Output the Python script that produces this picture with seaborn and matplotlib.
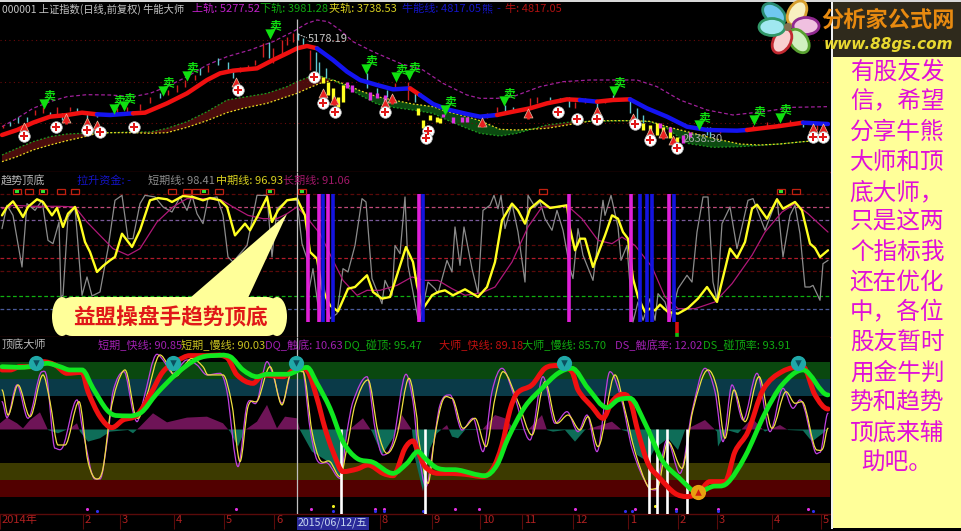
import numpy as np
import matplotlib
matplotlib.use("Agg")
import matplotlib.pyplot as plt
from matplotlib.patches import Ellipse, FancyBboxPatch, PathPatch, Polygon, Rectangle
from matplotlib.path import Path
from matplotlib.transforms import ScaledTranslation
import seaborn as sns

# ===================== PRICE PANEL DATA =====================
bull_x = [2,17,33,50,67,82,97,110,133,145,167,187,207,220,233,257,273,287,297,307,317,333,347,360,377,393,410,420,433,447,467,480,497,513,530,547,567,580,597,613,630,647,667,687,707,737,747,780,803,828]
bull_v = [2730,2850,3026,3170,3210,3266,3226,3210,3250,3266,3490,3730,4050,4210,4274,4330,4530,4690,4810,4866,4810,4530,4250,4050,3930,3826,3850,3690,3474,3346,3234,3170,3210,3290,3370,3490,3586,3570,3530,3570,3586,3370,3170,2930,2850,2834,2850,2946,3026,2994]
bull_up = [1,1,1,1,1,1,0,0,1,1,1,1,1,1,1,1,1,1,1,1,0,0,0,0,0,0,1,0,0,0,0,0,1,1,1,1,1,0,1,1,0,0,0,0,0,0,1,1,0,1]

upper_x = [2,17,33,50,67,87,110,133,150,167,187,207,227,250,273,293,307,317,328,340,353,373,400,423,443,467,480,497,513,540,563,590,613,637,657,680,707,733,763,793,827]
upper_v = [2930,3130,3370,3530,3650,3698,3690,3650,3730,3890,4130,4410,4610,4770,4970,5210,5410,5490,5450,5250,4970,4730,4450,4290,3970,3690,3610,3610,3650,3890,4010,4050,4050,4050,3890,3570,3330,3210,3290,3394,3410]

band_x = [2,17,33,50,67,82,97,110,133,150,167,187,207,227,243,267,287,297,308,320,333,347,360,377,393,413,433,447,467,480,500,517,547,573,593,630,650,667,687,713,740,760,780,803,827]
lower_v = [2250,2410,2570,2690,2754,2770,2786,2786,2802,2802,2890,3050,3290,3570,3634,3730,3890,4010,4114,4146,4050,3874,3690,3474,3394,3330,3250,3090,2890,2770,2706,2770,2970,3050,3058,3074,3050,2890,2530,2434,2450,2482,2514,2570,2610]
trap_v = [2090,2210,2370,2490,2594,2674,2770,2786,2786,2770,2786,2914,3074,3266,3370,3490,3650,3730,3850,3970,4050,3930,3794,3650,3570,3474,3410,3290,3170,3074,2866,2850,2890,2994,3074,3074,3058,2930,2810,2650,2514,2490,2514,2570,2610]

candle_x = [3,10,18,27,35,43,50,57,62,70,77,87,97,117,127,140,150,160,168,177,185,195,200,208,218,228,233,240,248,255,263,269,273,282,287,293,298,303,310,316,319,326,367,377,387,395,408,415,487,497,505,513,530,537,550,560,569,575,585,597,605,613,630,637,643,707,710,720,753,767,790,803,817,823]
candle_hi = [2970,3050,3170,3170,3330,3394,3290,3410,3250,3410,3370,3250,3250,3370,3394,3474,3650,3746,3810,3930,4050,4170,4330,4410,4570,4490,4290,4370,4410,4530,4930,4970,4810,5010,5090,5170,5170,5050,4770,4730,4490,4330,4210,3850,3810,3970,4010,3730,3250,3410,3450,3410,3610,3650,3650,3610,3650,3530,3610,3570,3570,3690,3570,3370,3210,2930,2930,2890,2970,3050,3090,3050,2994,2970]
candle_lo = [2890,2946,3010,3050,3210,3250,3186,3210,3090,3314,3290,3130,3170,3234,3266,3330,3490,3610,3690,3770,3874,4050,4170,4250,4410,4250,4090,4250,4290,4410,4610,4570,4450,4650,4890,4970,5010,4850,4290,4250,4170,4090,3850,3690,3650,3810,3570,3530,3130,3290,3290,3330,3370,3490,3570,3530,3410,3370,3490,3370,3490,3570,3250,3050,3010,2730,2690,2770,2850,2930,2970,2930,2850,2810]
candle_red = [1,0,0,0,1,1,0,1,0,1,0,0,0,1,1,1,1,0,1,1,1,1,0,1,0,0,0,1,1,1,1,0,1,1,1,1,0,0,1,0,0,0,0,0,0,1,1,0,1,1,0,0,1,1,0,0,0,1,1,0,1,0,0,0,0,0,0,1,1,1,1,0,1,1]

weak_x = [323,328,333,338,343,418,423,430,437,440,643,650,657,663,670,677]
weak_hi = [4130,4010,3850,3650,3930,3370,3090,3210,3170,3130,3010,2970,3010,2930,2850,2690]
weak_lo = [3970,3690,3570,3410,3530,3210,2890,3090,3050,3026,2850,2770,2730,2730,2650,2570]
rebound_x = [347,352,370,377,385,443,453,462,467,660,670,683,690]
rebound_hi = [4010,3930,3770,3730,3690,3234,3170,3170,3154,3010,2930,2730,2810]
rebound_lo = [3850,3770,3570,3610,3530,3154,3010,3050,3050,2890,2810,2530,2690]

buy_x = [24,56,87,100,134,238,314,323,335,385,428,426,558,577,597,635,650,677,813,823]
buy_v = [2706,2922,2850,2794,2922,3802,4122,3498,3290,3282,2826,2650,3274,3122,3106,3002,2610,2410,2690,2690]
rise_x = [24,66,87,97,236,323,334,385,392,482,528,597,633,650,663,673,813,823]
rise_v = [2930,3130,3050,2970,4010,3730,3570,3506,3610,3050,3250,3314,3130,2810,2770,2610,2890,2890]
sell_x = [47,117,127,166,190,273,369,399,412,448,507,617,702,757,783]
sell_v = [3586,3474,3530,3906,4266,5274,4434,4226,4274,3450,3650,3906,3074,3210,3250]
price_levels = [5010,4010,3010]

# ===================== TREND PANEL DATA =====================
mid_x = [2,7,13,18,23,28,37,43,52,57,63,68,75,80,85,90,97,103,110,115,122,132,140,150,158,167,172,183,193,203,210,220,227,235,245,250,258,267,272,278,287,297,305,310,317,322,330,338,348,355,367,373,382,390,398,406,413,417,423,432,438,445,453,465,478,487,495,502,512,518,525,530,540,550,567,570,575,580,585,593,605,612,618,623,628,633,638,645,650,655,660,668,678,688,698,707,717,730,737,745,752,757,767,777,783,795,802,810,815,820,828]
mid_v = [83.6,90.2,94.6,88.8,82.3,90.2,96.2,94.1,83.6,89.4,74.5,84.9,90.2,78.4,62.7,54.9,39.2,43.9,48.3,51,69.2,58.8,71.9,95.4,97.2,96.2,94.1,98.8,98,95.4,97.2,95.4,90.2,67.9,77.1,71.9,83.6,98,78.4,87.5,95.4,96.7,83.6,54.9,49.6,26.1,13,8.3,26.1,27.4,36.6,23.5,18.3,19.6,39.2,58.8,47,28.7,10.4,20.9,23.5,24.8,20.9,25.6,19.6,27.4,47,79.7,92.8,87.5,77.1,88.8,95.4,89.4,91.5,73.2,56.2,65.3,65.3,43.1,67.9,83.6,81,70.5,65.3,34,19.6,7.8,10.4,9.1,13.6,7.8,6.5,10.9,18.3,27.4,15.7,57.5,50.2,62.7,88.8,92,81,96.2,88.8,94.1,87.5,61.4,58,50.9,56.2]
short_x = [2,7,13,22,27,35,42,48,53,59,61,63,68,75,82,87,92,100,108,115,122,128,133,140,145,155,163,172,180,187,192,197,203,208,217,223,228,233,247,257,267,272,277,287,297,302,307,308,313,320,323,330,337,343,348,355,362,366,372,382,385,392,395,400,405,408,418,420,428,435,438,447,452,455,460,464,472,478,483,490,494,498,501,505,512,518,525,528,535,540,545,552,557,563,570,573,578,583,593,603,605,611,618,621,627,630,633,638,643,650,655,658,665,670,678,687,692,697,703,708,713,717,722,730,737,748,753,765,777,783,790,795,800,805,810,813,820,823,828]
short_v = [73.2,91.5,83.6,43.1,92.8,87.5,95.4,64,61.4,78.4,19.6,20.9,82.3,90.2,20.9,35.3,20.4,23.5,57.5,95.4,99.3,65.3,65.3,92.8,99.3,98,90.2,86.2,98,87.5,99.3,84.9,77.1,96.7,98,83.6,51,47,60,99.3,99.3,51,88.8,95.4,95.4,61.4,49.6,20.9,41.8,1.3,31.3,2.6,6.5,41.8,39.2,60,96.7,94.1,34,14.3,32.6,20.9,60,53.6,98,44.4,2.6,1.3,31.3,26.1,22.2,48.3,39.2,74.5,44.4,74.5,41.8,22.2,87.5,91.5,99.3,88.8,99.3,73.2,92.8,70.5,31.3,99.3,90.2,94.1,81,71.9,87.5,71.9,41.8,34,73.2,52.3,32.6,95.4,83.6,99.3,74.5,48.3,60,28.7,0,15.7,1.3,18.3,1.3,22.2,15.7,1.3,26.1,36.6,31.3,70.5,98,98,31.3,17,77.1,90.2,57.5,95.4,96.7,71.9,96.7,51,83.6,91.5,69.2,27.4,27.4,28.7,17,45.7,48.3]
long_x = [2,13,33,60,75,87,100,113,128,140,157,173,187,207,222,233,248,263,277,287,297,305,320,333,343,357,367,380,397,412,425,438,452,465,482,495,512,528,542,555,567,582,598,612,622,635,652,665,678,695,715,732,752,765,782,795,808,828]
long_v = [88.8,91.5,90.7,90.7,90.2,78.4,67.9,57.5,52.3,57.5,78.4,90.2,96.7,96.7,95.4,90.2,83.6,81,81,84.9,90.2,83.6,69.2,48.3,32.6,20.9,24.8,24.8,28.7,35.3,32.6,32.6,26.1,20.9,23,27.4,47,74.5,90.2,90.2,91.5,81,64,61.4,66.6,60,43.1,19.6,10.4,10.4,15.7,30,52.3,70.5,86.2,92.8,84.9,70.5]

magenta_bar_x = [308,319,328,419,569,631,669]
blue_bar_x = [323,333,423,640,647,652,674]
box_x = [17,29,43,61,75,172,187,196,204,219,270,302,543,781,796]
box_filled = [1,0,1,0,0,0,0,0,1,0,1,1,0,1,0]
trend_levels = [100,90,80,60,50,40,20,10]
trend_colors = ["#5a0a0a","#c04a7a","#7a5a9a","#5a0a0a","#b01a2a","#5a0a0a","#10b010","#4a5a9a"]

# ===================== TOP-BOTTOM PANEL DATA =====================
bigred_x = [2,10,20,30,43,55,67,82,88,100,112,123,137,150,163,177,190,207,227,237,253,263,283,297,308,317,325,333,343,357,368,383,393,405,413,418,425,438,448,465,483,493,502,510,517,532,545,558,572,578,592,603,612,622,630,638,648,660,675,687,698,710,725,735,748,763,782,803,815,828]
bigred_v = [94.1,94.1,96.5,96.5,100.2,97.8,91.6,92.3,78,59.5,51.4,57,60.7,75.6,92.8,100.7,104.7,104.7,103.2,90.4,84.2,90.4,89.1,95.3,92.8,73.1,50.9,33.6,18.8,20.7,23.7,17.5,15.8,36.1,41.5,33.6,22.5,17.5,17.5,16.8,15.1,21.2,38.5,64.4,76.8,83,95.3,97.3,92.8,79.3,66.9,58.3,70.6,76,71.9,48.4,24.9,13.8,2.7,0.3,2.7,11.4,11.4,33.6,48.4,79.3,92.8,96.5,75.6,65.2]
biggreen_x = [2,20,37,47,60,70,82,93,107,117,140,157,177,197,213,230,243,257,267,287,307,317,330,343,357,373,393,407,418,425,438,458,485,497,508,525,542,558,572,588,607,618,630,645,662,678,698,712,727,745,765,782,803,828]
biggreen_v = [96.5,96,97.3,99,96.5,94.1,94.1,80.5,64.4,60.3,62,76.8,91.6,102.2,104.7,104,94.1,89.1,90.9,90.9,96,84.2,65.7,41,28.6,25.7,17.5,24.9,33.6,28.6,21.2,20,15.8,23.7,43.5,66.9,80.5,91.6,95.3,80.5,66.2,71.9,73.1,54.6,27.4,15,3.5,7.7,10.1,29.9,62,83,94.1,75.6]
fast_x = [2,7,17,28,42,47,55,63,77,83,95,100,108,113,124,133,137,143,157,163,173,187,197,207,220,227,238,247,257,267,273,282,293,302,310,317,328,340,347,353,367,375,383,393,406,413,418,426,433,440,450,462,473,483,492,502,515,530,543,555,567,578,587,597,610,622,632,647,655,667,680,692,705,715,723,732,743,757,770,783,793,800,815,820,828]
fast_v = [70.6,58.8,83,58.3,92.8,87.9,36.1,37.3,71.9,48.4,13.3,13.3,45.9,78,92.8,63.2,55.8,70.6,105.7,101.5,91.6,101.5,97.8,90.4,91.6,78,22.5,68.2,70.6,100.2,90.4,69.4,95.3,95.3,50.9,27.4,24.9,13.8,48.4,70.6,89.1,50.9,31.1,41,90.9,70.6,36.1,7.7,36.1,68.2,75.6,49.6,58.3,33.6,78,95.3,73.1,42.2,89.1,54.6,63.2,48.4,60.7,33.6,92.8,70.6,36.1,8.9,5.2,42.2,17.5,63.2,95.3,78,41,83,57,91.6,48.4,80.5,65.7,71.9,33.6,33.1,62]
slow_x = [2,8,18,30,43,50,58,65,79,88,97,103,110,117,125,135,138,147,160,168,175,192,203,208,223,232,240,248,258,270,282,290,303,312,320,330,340,348,355,368,378,387,397,409,417,418,428,435,443,452,463,475,486,495,503,518,532,545,557,568,580,588,598,615,625,635,648,657,668,682,693,708,717,725,734,745,759,772,786,795,802,817,823,828]
slow_v = [79.3,60.7,83,59.5,90.4,70.6,38.5,38.5,70.6,26.2,13.3,21.2,60.7,83,94.1,60.7,58.3,75.6,105.2,97.8,89.1,102.7,96.5,90.4,90.4,68.2,26.2,66.9,71.9,96.5,68.2,90.4,92.8,48.4,27.4,26.2,15.1,41,68.2,86.7,48.4,32.3,45.9,87.9,58.3,45.9,10.1,45.9,71.9,73.1,50.9,58.3,37.3,73.1,92.8,70.6,45.9,85.4,54.6,60.7,49.6,59.5,37.3,90.4,64.4,33.6,7.7,6.4,41,21.2,64.4,94.1,80.5,43.5,79.3,55.8,89.1,50.9,78,69.4,70.6,34.8,36.1,50.9]
hist_x = [0,7,17,23,30,40,48,58,70,77,80,88,100,110,128,133,140,153,167,187,207,223,230,238,245,257,267,277,285,297,300,312,328,340,347,353,363,372,382,393,402,412,415,423,430,437,447,452,458,465,482,495,505,515,528,542,547,553,565,575,585,612,622,628,637,648,655,668,678,685,705,717,718,727,738,752,765,780,788,803,812,827]
hist_v = [54.6,58.8,54.6,50.9,57,62.7,49.6,47.2,50.9,54.6,48.4,41,43.5,48.4,49.6,47.2,52.1,62,55.3,58.8,59.5,54.6,48.4,37.3,49.6,55.8,68.2,50.9,59.5,58.3,49.6,33.6,26.2,15.1,48.4,52.1,58.3,48.4,31.1,43.5,60.7,49.6,28.6,4,36.1,47.2,53.3,44.7,43.5,49.6,49.6,60.7,58.3,49.6,49.6,60.7,49.6,48.4,49.6,41,49.6,55.8,49.6,48.4,31.1,26.2,36.1,43.5,34.8,49.6,57,48.4,37.3,49.6,47.2,58.3,48.4,53.3,49.6,49.1,41,49.6]
top_hit_x = [36,173,296,564,798]
top_hit_v = [99,99,99,99.5,99.5]
bottom_hit_x = [698]
bottom_hit_v = [3.5]
signal_x = [341,425,649,657,667,687]
zone_edges = [100,87.5,75,25,12.5,0]
dot_pink_x = [87,236,311,375,384,455,479,575,635,676,718,808]
dot_blue_x = [97,333,375,384,423,625,632,676,718,813]
dot_yellow_x = [333,655]

# ===================== AXIS TEXT =====================
tick_pos = [0,83,120,174,224,274,380,432,480,522,573,628,678,717,772,821]
tick_txt = ["2014年","2","3","4","5","6","8","9","10","11","12","1","2","3","4","5"]
note_lines = ["有股友发","信，希望","分享牛熊","大师和顶","底大师，","只是这两","个指标我","还在优化","中，各位","股友暂时","用金牛判","势和趋势","顶底来辅","助吧。"]

# ===================== STYLE =====================
sns.set_theme(style="dark", rc={"axes.facecolor": "black", "figure.facecolor": "black", "axes.grid": False})
plt.rcParams["font.family"] = ["Noto Sans CJK SC", "DejaVu Sans"]

W, H = 962, 531
fig = plt.figure(figsize=(W / 100, H / 100), dpi=100)
RED_EDGE = "#5a0a0a"


def panel(top, bottom, ylim):
    a = fig.add_axes([0, 1 - bottom / H, 830 / W, (bottom - top) / H])
    a.set_xlim(0, 830)
    a.set_ylim(*ylim)
    a.set_xticks([])
    a.set_yticks([])
    for s in a.spines.values():
        s.set_visible(False)
    a.spines["bottom"].set_visible(True)
    a.spines["bottom"].set_color(RED_EDGE)
    a.spines["bottom"].set_linewidth(1)
    return a


def line(a, x, y, color, lw, ls="-"):
    sns.lineplot(x=x, y=y, ax=a, color=color, linewidth=lw, linestyle=ls,
                 estimator=None, sort=False, errorbar=None, legend=False)


def curve(a, x, y, color, lw, zorder=2.5):
    # the terminal draws these as smooth curves: round the joins, peaks stay at the read values
    x, y = np.asarray(x, float), np.asarray(y, float)
    m = np.zeros(len(x))
    m[1:-1] = (y[2:] - y[:-2]) / (x[2:] - x[:-2])
    turn = (y[1:-1] - y[:-2]) * (y[2:] - y[1:-1]) <= 0
    m[1:-1][turn] = 0
    verts, codes = [(x[0], y[0])], [Path.MOVETO]
    for i in range(len(x) - 1):
        h = (x[i + 1] - x[i]) / 3
        verts += [(x[i] + h, y[i] + m[i] * h), (x[i + 1] - h, y[i + 1] - m[i + 1] * h), (x[i + 1], y[i + 1])]
        codes += [Path.CURVE4] * 3
    a.add_patch(PathPatch(Path(verts, codes), fc="none", ec=color, lw=lw, zorder=zorder, capstyle="round"))


def header(y, items, size=8.0):
    for x, txt, col in items:
        ov.text(x, y, txt, color=col, fontsize=size, va="center", ha="left")


ax_top = panel(3, 172, (1842, 5898))
ax_mid = panel(172, 337, (-11.8, 117.6))
ax_bot = panel(337, 514, (-12.6, 118.5))

# ===================== PRICE PANEL =====================
for lv in price_levels:
    ax_top.axhline(lv, color="#6a0a0a", lw=0.8, ls=(0, (1, 3)))

ax_top.fill_between(band_x, lower_v, trap_v, where=np.array(lower_v) >= np.array(trap_v),
                    color="#4a0c0c", lw=0, interpolate=True)
ax_top.fill_between(band_x, lower_v, trap_v, where=np.array(lower_v) <= np.array(trap_v),
                    color="#0b4a10", lw=0, interpolate=True)
line(ax_top, band_x, lower_v, "#1f9a1f", 0.9, (0, (1.5, 1.5)))
line(ax_top, band_x, trap_v, "#e8d820", 0.9, (0, (1.5, 1.5)))
line(ax_top, upper_x, upper_v, "#a0209a", 0.9, (0, (3, 2)))

for i in range(len(candle_x)):
    c = "#d02020" if candle_red[i] else "#60c8d0"
    ax_top.vlines(candle_x[i], candle_lo[i], candle_hi[i], color=c, lw=1.0)
ax_top.vlines(weak_x, weak_lo, weak_hi, color="#ffff20", lw=2.4)
ax_top.vlines(rebound_x, rebound_lo, rebound_hi, color="#e030e0", lw=2.4)

# bull line changes colour run by run
start = 0
for i in range(1, len(bull_x) + 1):
    if i == len(bull_x) or bull_up[i] != bull_up[start]:
        stop = min(i + 1, len(bull_x))
        col = "#f01010" if bull_up[start] else "#1414f0"
        line(ax_top, bull_x[start:stop], bull_v[start:stop], col, 3.2)
        start = i

sns.scatterplot(x=rise_x, y=rise_v, ax=ax_top, marker="^", s=42, color="#e82020",
                edgecolor="#e8c0a0", linewidth=0.5, legend=False, zorder=6)
ax_top.vlines(rise_x, np.array(rise_v) - 130, rise_v, color="#e82020", lw=2, zorder=6)
sns.scatterplot(x=buy_x, y=buy_v, ax=ax_top, marker="o", s=70, color="white",
                edgecolor="#b0b0b0", linewidth=0.5, legend=False, zorder=7)
sns.scatterplot(x=buy_x, y=buy_v, ax=ax_top, marker="P", s=34, color="#e01818",
                linewidth=0, legend=False, zorder=8)
sns.scatterplot(x=np.array(sell_x) - 3, y=np.array(sell_v) - 110, ax=ax_top, marker="v", s=55,
                color="#10e010", linewidth=0, legend=False, zorder=7)
for x, v in zip(sell_x, sell_v):
    ax_top.text(x + 2, v + 60, "卖", color="#10e010", fontsize=8.5, fontweight="bold",
                ha="center", va="center", zorder=8)

ax_top.text(308, 5040, "5178.19", color="#c8c8c8", fontsize=8, va="center", zorder=9)
ax_top.text(683, 2634, "2638.30", color="#a8a8a8", fontsize=8, va="center", zorder=9)
ax_top.plot([298, 307], [5150, 5060], color="#c8c8c8", lw=0.7, ls=(0, (2, 1)))

# ===================== TREND PANEL =====================
for lv, c in zip(trend_levels, trend_colors):
    ax_mid.axhline(lv, color=c, lw=0.9, ls=(0, (3, 2)))
line(ax_mid, short_x, short_v, "#8c8c8c", 0.9)
ax_mid.vlines(magenta_bar_x, 0, 100, color="#e020d8", lw=2.6, zorder=3)
ax_mid.vlines(blue_bar_x, 0, 100, color="#1414e0", lw=2.6, zorder=3)
line(ax_mid, long_x, long_v, "#b01878", 0.9)
line(ax_mid, mid_x, mid_v, "#ffff20", 1.7)
for b, f in zip(box_x, box_filled):
    ax_mid.add_patch(Rectangle((b - 4, 100.2), 8, 3.8, fc="none", ec="#c02010", lw=0.9, zorder=5))
    if f:
        ax_mid.add_patch(Rectangle((b - 2, 101), 4, 2.2, fc="#30e030", ec="none", zorder=6))
ax_mid.vlines(677, -9, 0, color="#d81010", lw=2.6)
ax_mid.vlines(677, -11.5, -9, color="#10c010", lw=2.6)

# ===================== TOP-BOTTOM PANEL =====================
zone_cols = ["#0a480f", "#0a3a48", "#3c3a00", "#520000"]
ax_bot.axhspan(zone_edges[1], zone_edges[0], color=zone_cols[0], lw=0)
ax_bot.axhspan(zone_edges[2], zone_edges[1], color=zone_cols[1], lw=0)
ax_bot.axhspan(zone_edges[4], zone_edges[3], color=zone_cols[2], lw=0)
ax_bot.axhspan(zone_edges[5], zone_edges[4], color=zone_cols[3], lw=0)
hist = np.array(hist_v)
ax_bot.fill_between(hist_x, 50, hist, where=hist >= 50, color="#6e1457", lw=0, interpolate=True)
ax_bot.fill_between(hist_x, 50, hist, where=hist <= 50, color="#0e6d58", lw=0, interpolate=True)
curve(ax_bot, fast_x, fast_v, "#c040e0", 0.9)
curve(ax_bot, slow_x, slow_v, "#f0e040", 0.9)
ax_bot.vlines(signal_x, -12.6, 50, color="white", lw=1.9, zorder=3)
curve(ax_bot, bigred_x, bigred_v, "#f01010", 3.6, zorder=4)
curve(ax_bot, biggreen_x, biggreen_v, "#10e820", 3.4, zorder=5)
sns.scatterplot(x=top_hit_x, y=top_hit_v, ax=ax_bot, marker="o", s=120, color="#20a8a8", linewidth=0,
                legend=False, zorder=6)
sns.scatterplot(x=top_hit_x, y=top_hit_v, ax=ax_bot, marker="v", s=22, color="#0a5060", linewidth=0,
                legend=False, zorder=7)
sns.scatterplot(x=bottom_hit_x, y=bottom_hit_v, ax=ax_bot, marker="o", s=120, color="#e8a010", linewidth=0,
                legend=False, zorder=6)
sns.scatterplot(x=bottom_hit_x, y=bottom_hit_v, ax=ax_bot, marker="^", s=22, color="#d02010", linewidth=0,
                legend=False, zorder=7)
ax_bot.scatter(dot_pink_x, [-8.9] * len(dot_pink_x), s=5, color="#e030e0", lw=0)
ax_bot.scatter(dot_blue_x, [-10.6] * len(dot_blue_x), s=5, color="#3030f0", lw=0)
ax_bot.scatter(dot_yellow_x, [-6.5] * len(dot_yellow_x), s=5, color="#f0f020", lw=0)

# month labels under the bottom panel
ax_bot.set_xticks(tick_pos)
ax_bot.set_xticklabels(tick_txt, ha="left", color="#b02020", fontsize=8)
ax_bot.tick_params(axis="x", length=11, width=0.8, color=RED_EDGE, pad=-10.5, bottom=True)
for lbl in ax_bot.get_xticklabels():
    lbl.set_transform(lbl.get_transform() + ScaledTranslation(2 / 100, 0, fig.dpi_scale_trans))
ax_bot.text(298, -19.4, "2015/06/12/五", color="#c8d8f0", fontsize=7.6, va="center", ha="left", zorder=12,
            clip_on=False, bbox=dict(boxstyle="square,pad=0.12", fc="#2a2a9a", ec="none"))

# cursor through all three panels
for a, low, high in ((ax_top, 1842, 5510), (ax_mid, -11.8, 117.6), (ax_bot, -12.6, 118.5)):
    a.vlines(297, low, high, color="#c0c0c0", lw=0.9, zorder=4)

# ===================== OVERLAY: HEADERS, CALLOUT, SIDE NOTE =====================
ov = fig.add_axes([0, 0, 1, 1], facecolor="none")
ov.set_xlim(0, W)
ov.set_ylim(H, 0)
ov.axis("off")
ov.add_patch(Rectangle((0, 0), W, 2, fc="#d8d8d8", ec="none"))
ov.add_patch(Rectangle((831.5, 2), 1.5, 527, fc="#f0f0f0", ec="none"))
ov.add_patch(Rectangle((833, 57), 129, 471, fc="#ffff99", ec="none"))
ov.add_patch(Rectangle((833, 2), 129, 55, fc="#2f2a1c", ec="none"))

header(9, [(2, "000001 上证指数(日线,前复权) 牛能大师", "#c4c4c4")], size=7.4)
header(9, [(192, "上轨: 5277.52", "#c020c8"), (260, "下轨: 3981.28", "#10a810"), (329, "夹轨: 3738.53", "#d8d020"),
           (402, "牛能线: 4817.05", "#1414c8"), (481, "熊", "#1414c8"), (496, "-", "#1414c8"),
           (505, "牛: 4817.05", "#b01010")])
header(181, [(1, "趋势顶底", "#b8b8b8"), (77, "拉升资金: -", "#1414c8"), (148, "短期线: 98.41", "#8c8c8c"),
             (216, "中期线: 96.93", "#d8d020"), (283, "长期线: 91.06", "#a01868")])
header(345, [(1, "顶底大师", "#b8b8b8"), (98, "短期_快线: 90.85", "#a020b0"), (181, "短期_慢线: 90.03", "#c8c020"),
             (265, "DQ_触底: 10.63", "#a020b0"), (344, "DQ_碰顶: 95.47", "#10a810"),
             (439, "大师_快线: 89.18", "#c01010"), (522, "大师_慢线: 85.70", "#10a810"),
             (615, "DS_触底率: 12.02", "#a020b0"), (703, "DS_碰顶率: 93.91", "#10a810")])

# callout
ov.add_patch(Polygon([(287, 214), (190, 298), (248, 298)], fc="#ffff99", ec="none", zorder=20))
ov.add_patch(FancyBboxPatch((62, 297), 215, 39, boxstyle="round,pad=0,rounding_size=10", fc="#ffff99", ec="none",
                            mutation_aspect=1, zorder=20))
ov.add_patch(Ellipse((62, 316.5), 20, 39, fc="#ffff99", ec="none", zorder=20))
ov.add_patch(Ellipse((277, 316.5), 20, 39, fc="#ffff99", ec="none", zorder=20))
ov.text(170, 318, "益盟操盘手趋势顶底", color="#e01818", fontsize=15.6, fontweight="bold",
        ha="center", va="center", zorder=21)

# flower logo
petals = [(774, 14, 40, "#2a8a70", "#70c8f0"), (797, 13, -60, "#d8a030", "#f8f0c0"), (806, 26, 0, "#902890", "#f0c0e0"),
          (799, 41, 55, "#58a030", "#d0f0c0"), (782, 41, -60, "#c02830", "#f8d0d0"), (772, 27, 0, "#309868", "#a0e8f0")]
for px, py, ang, edge, fill in petals:
    ov.add_patch(Ellipse((px, py), 26, 17, angle=ang, fc=fill, ec=edge, lw=2))
ov.add_patch(Ellipse((788, 27), 8, 8, fc="#807050", ec="none"))
ov.text(888, 20, "分析家公式网", color="#e88a10", fontsize=16, fontweight="bold", ha="center", va="center")
ov.text(888, 44, "www.88gs.com", color="#e8d830", fontsize=11, fontweight="bold", style="italic",
        family=["DejaVu Sans"], ha="center", va="center")

# side note, one line per row
for i, txt in enumerate(note_lines):
    ov.text(897, 72 + i * 30.1, txt, color="#e010d8", fontsize=17, ha="center", va="center")

fig.savefig("out.png", dpi=100, facecolor="black")
